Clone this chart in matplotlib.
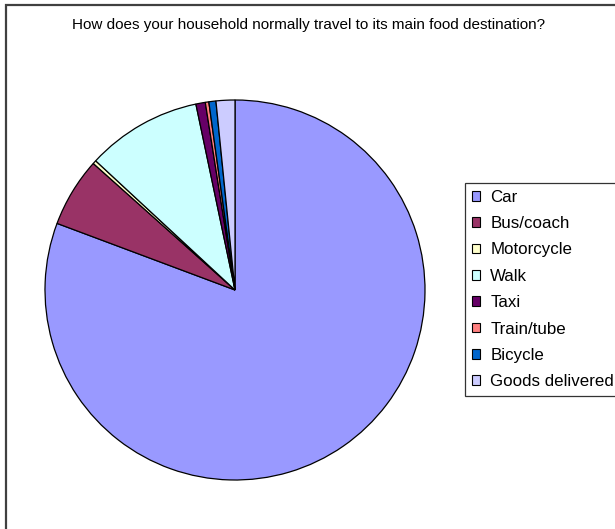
import matplotlib.pyplot as plt
from matplotlib.patches import Rectangle

# share of households by travel mode (percent)
modes = ["Car", "Bus/coach", "Motorcycle", "Walk", "Taxi", "Train/tube", "Bicycle", "Goods delivered"]
shares = [80.7, 5.9, 0.3, 9.8, 0.8, 0.3, 0.6, 1.6]
colors = ["#9999FF", "#993366", "#FFFFCC", "#CCFFFF", "#660066", "#FF8080", "#0066CC", "#CCCCFF"]

W, H = 615, 529
fig = plt.figure(figsize=(W / 100, H / 100), dpi=100)
fig.patch.set_facecolor("white")

# chart area border
fig.add_artist(Rectangle((6 / W, -0.1), 1.2, 1 - 5 / H + 0.1, transform=fig.transFigure,
                         fill=False, edgecolor="#404040", linewidth=1.6))

fig.text(309 / W, 1 - 25 / H, "How does your household normally travel to its main food destination?",
         ha="center", va="center", fontsize=11, family="Liberation Sans")

ax = fig.add_axes([45 / W, 49 / H, 380 / W, 380 / H])
wedges, _ = ax.pie(shares, colors=colors, startangle=90, counterclock=False,
                   wedgeprops=dict(edgecolor="black", linewidth=0.9))
ax.set_xlim(-1.0, 1.0)
ax.set_ylim(-1.0, 1.0)
ax.set_aspect("equal")
ax.axis("off")

leg = fig.legend(wedges, modes, loc="upper left", bbox_to_anchor=(465 / W, 1 - 183 / H),
                 frameon=True, fancybox=False, shadow=False, borderaxespad=0,
                 prop={"family": "Liberation Sans", "size": 12.2},
                 handlelength=0.5, handleheight=0.5, handletextpad=0.6,
                 labelspacing=0.67, borderpad=0.4)
leg.get_frame().set_edgecolor("black")
leg.get_frame().set_linewidth(0.9)
for h in leg.legend_handles:
    h.set_linewidth(0.8)

fig.savefig("out.png", dpi=100)
